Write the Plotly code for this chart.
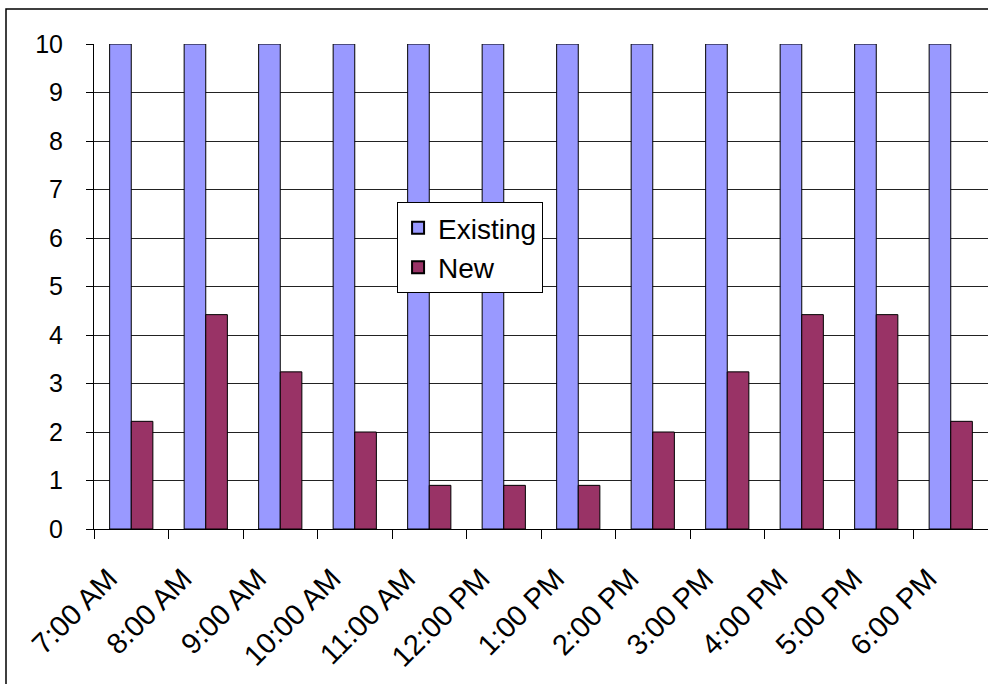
import plotly.graph_objects as go

hours = ["7:00 AM", "8:00 AM", "9:00 AM", "10:00 AM", "11:00 AM", "12:00 PM",
         "1:00 PM", "2:00 PM", "3:00 PM", "4:00 PM", "5:00 PM", "6:00 PM"]
existing = [10, 10, 10, 10, 10, 10, 10, 10, 10, 10, 10, 10]
new = [2.22, 4.42, 3.24, 2.0, 0.9, 0.9, 0.9, 2.0, 3.24, 4.42, 4.42, 2.22]
y_ticks = list(range(0, 11))

FONT = "Liberation Sans, Arial, sans-serif"
LABEL_SHIFT = 0.3  # rotated labels sit a little left of each category centre

fig = go.Figure()
fig.add_trace(go.Bar(x=hours, y=existing, name="Existing",
                     marker=dict(color="#9999FF", line=dict(color="#000000", width=1))))
fig.add_trace(go.Bar(x=hours, y=new, name="New",
                     marker=dict(color="#993366", line=dict(color="#000000", width=1))))

n = len(hours)
# empty helper trace so the label-only axis gets drawn
fig.add_trace(go.Scatter(x=list(range(n)), y=[None] * n, xaxis="x2", yaxis="y",
                         mode="markers", showlegend=False, hoverinfo="skip"))

fig.update_layout(
    width=988, height=684,
    margin=dict(l=94, r=0, t=44, b=155),
    paper_bgcolor="white", plot_bgcolor="white",
    barmode="group", bargap=0.42, bargroupgap=0,
    font=dict(family=FONT, color="black", size=26),
    legend=dict(x=0.339, y=0.674, xanchor="left", yanchor="top",
                bgcolor="white", bordercolor="black", borderwidth=1,
                font=dict(size=28), tracegroupgap=0, itemsizing="constant"),
    xaxis=dict(type="category", tickson="boundaries", ticks="outside", ticklen=9,
               tickcolor="black", showline=True, linecolor="black", linewidth=1,
               showticklabels=False, showgrid=False),
    # label-only axis carrying the rotated hour names
    xaxis2=dict(overlaying="x", anchor="y", side="bottom", type="linear",
                range=[-0.5 + LABEL_SHIFT, n - 0.5 + LABEL_SHIFT],
                tickmode="array", tickvals=list(range(n)), ticktext=hours, ticks="",
                showticklabels=True, showline=False, showgrid=False, zeroline=False,
                tickangle=-45, tickfont=dict(size=29), ticklabelstandoff=26),
    yaxis=dict(range=[0, 10], tickvals=y_ticks, ticks="outside", ticklen=7,
               tickcolor="black", showline=True, linecolor="black", linewidth=1,
               showgrid=True, gridcolor="#222222", gridwidth=1,
               tickfont=dict(size=25), ticklabelstandoff=18, zeroline=False),
    shapes=[dict(type="rect", xref="paper", yref="paper",
                 x0=(6 - 94) / 894, x1=1.05, y0=-0.4, y1=(529 - 9) / 485,
                 line=dict(color="black", width=1.5), fillcolor="rgba(0,0,0,0)",
                 layer="below")],
)

fig.write_html("out.html")
